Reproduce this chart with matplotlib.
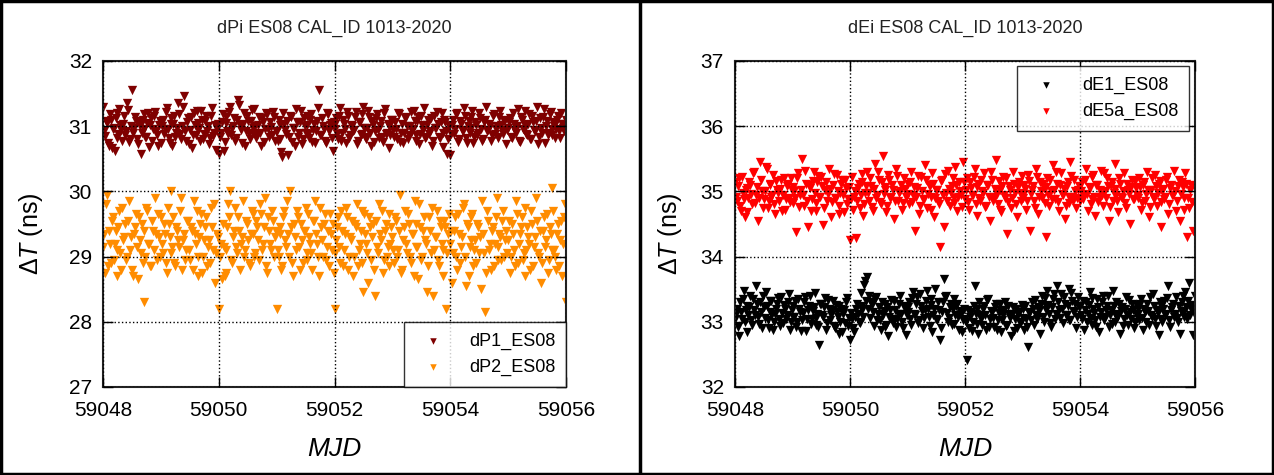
import numpy as np
import matplotlib
matplotlib.use("Agg")
import matplotlib.pyplot as plt
from matplotlib.patches import Rectangle

plt.rcParams["font.family"] = ["Liberation Sans", "DejaVu Sans"]
plt.rcParams["mathtext.fontset"] = "custom"
plt.rcParams["mathtext.rm"] = "Liberation Sans"
plt.rcParams["mathtext.it"] = "Liberation Sans:italic"

# epochs: MJD 59048 .. 59056, one sample every 1/30 day, plus the samples half a step later
mjd_start = 59048
mjd_step = 1.0 / 30

dP1 = [
    31.30, 30.85, 31.05, 30.70, 31.10, 30.95, 30.62, 31.20, 30.88, 31.02,
    30.78, 31.15, 30.92, 31.25, 30.80, 31.55, 30.98, 31.08, 30.72, 31.00,
    30.90, 31.18, 30.84, 31.05, 30.68, 31.12, 30.95, 31.22, 30.86, 31.02,
    30.75, 31.10, 30.96, 31.28, 30.82, 31.04, 30.70, 31.15, 30.90, 31.35,
    30.88, 31.00, 31.46, 30.78, 31.12, 30.94, 30.66, 31.20, 30.86, 31.05,
    30.98, 31.24, 30.80, 31.08, 30.92, 30.72, 31.16, 30.85, 31.02, 30.95,
    30.58, 30.90, 31.18, 30.76, 31.05, 30.88, 31.30, 30.97, 31.12, 30.82,
    31.40, 31.02, 30.74, 31.20, 30.93, 31.08, 30.80, 31.25, 30.90, 31.00,
    30.86, 31.14, 30.70, 31.06, 30.95, 31.18, 30.84, 30.99, 31.22, 30.78,
    30.92, 31.10, 30.80, 30.52, 31.04, 30.88, 30.56, 31.15, 30.76, 30.98,
    31.26, 30.84, 31.06, 30.72, 31.12, 30.90, 31.02, 30.82, 31.18, 30.94,
    30.74, 31.08, 31.55, 30.86, 31.00, 30.78, 31.20, 30.92, 31.05, 30.62,
    30.96, 31.12, 30.80, 31.28, 30.90, 31.04, 30.74, 31.16, 30.86, 31.00,
    30.94, 31.22, 30.78, 31.06, 30.88, 31.30, 30.84, 30.98, 31.14, 30.70,
    31.02, 30.92, 31.18, 30.82, 31.08, 30.76, 31.26, 30.90, 31.00, 30.86,
    31.10, 30.84, 30.96, 31.20, 30.76, 31.04, 30.90, 31.14, 30.80, 31.00,
    30.92, 31.24, 30.86, 31.08, 30.72, 31.16, 30.94, 30.82, 31.02, 30.88,
    31.12, 30.78, 30.98, 31.22, 30.84, 31.06, 30.68, 31.10, 30.92, 30.80,
    30.56, 31.02, 30.88, 31.18, 30.76, 31.08, 30.94, 31.28, 30.82, 31.00,
    30.90, 31.14, 30.74, 31.06, 30.86, 31.20, 30.96, 30.80, 31.10, 30.92,
    31.04, 30.78, 31.16, 30.88, 31.00, 30.84, 31.24, 30.94, 31.08, 30.72,
    30.98, 31.12, 30.82, 31.04, 30.90, 31.26, 30.76, 31.10, 30.94, 31.02,
    30.86, 31.18, 30.80, 31.06, 30.92, 31.30, 30.84, 30.98, 31.14, 30.74,
    31.08, 30.90, 31.22, 30.86, 31.00, 30.96, 31.16, 30.82, 31.04, 30.92,
    31.10,
]
dP1_mid = [
    30.92, 31.08, 30.74, 31.18, 30.66, 30.98, 31.12, 30.82, 31.26, 30.94,
    31.04, 30.86, 31.35, 30.76, 31.00, 30.90, 31.14, 30.80, 31.06, 30.58,
    31.10, 30.96, 30.84, 31.20, 31.02, 30.78, 31.16, 30.92, 30.70, 31.08,
    31.00, 30.88, 31.22, 30.96, 30.74, 31.12, 31.04, 30.84, 30.98, 31.18,
    30.80, 31.30, 30.92, 31.06, 30.72, 31.14, 30.86, 31.02, 31.24, 30.94,
    30.78, 31.10, 30.88, 31.16, 31.00, 30.82, 31.28, 30.90, 30.64, 31.04,
    30.84, 31.06, 30.62, 31.14, 30.92, 31.22, 30.86, 31.00, 30.78, 31.10,
    31.32, 30.94, 31.04, 30.70, 31.16, 30.88, 31.08, 30.98, 31.26, 30.82,
    31.02, 30.90, 31.12, 30.76, 31.20, 30.96, 31.06, 30.86, 31.14, 30.92,
    30.78, 31.02, 30.60, 31.20, 30.94, 31.08, 30.84, 31.14, 30.98, 30.70,
    31.06, 30.90, 31.24, 30.80, 31.00, 31.16, 30.88, 31.10, 30.76, 31.04,
    30.92, 31.28, 30.86, 31.12, 30.96, 30.74, 31.18, 31.02, 30.82, 31.06,
    31.04, 30.88, 31.16, 30.78, 31.10, 30.96, 31.22, 30.82, 31.02, 30.92,
    31.14, 30.72, 31.06, 30.86, 31.18, 30.98, 30.80, 31.24, 30.90, 31.08,
    30.76, 31.12, 30.94, 31.00, 30.84, 31.20, 30.88, 31.04, 30.66, 31.10,
    30.94, 31.06, 30.80, 31.18, 30.90, 30.74, 31.12, 31.00, 30.86, 31.22,
    30.96, 31.08, 30.78, 31.14, 30.88, 31.02, 31.28, 30.84, 31.10, 30.92,
    30.70, 31.16, 30.98, 31.04, 30.82, 31.20, 30.90, 31.06, 30.58, 31.00,
    30.88, 31.10, 30.96, 31.20, 30.80, 31.04, 30.92, 31.16, 30.74, 31.08,
    30.98, 31.24, 30.84, 31.02, 30.90, 31.12, 30.78, 31.06, 31.30, 30.94,
    31.00, 30.86, 31.18, 30.96, 30.82, 31.14, 31.02, 30.88, 31.10, 30.94,
    31.06, 30.84, 31.20, 30.92, 31.00, 30.78, 31.14, 30.96, 31.24, 30.88,
    31.04, 30.80, 31.16, 30.94, 31.08, 30.72, 31.12, 30.90, 31.26, 31.00,
    30.86, 31.18, 30.96, 31.06, 30.82, 31.10, 30.92, 31.20, 30.98, 31.04,
]

dP2 = [
    29.15, 28.75, 29.95, 29.40, 28.90, 29.60, 29.20, 28.70, 29.45, 29.05,
    29.75, 29.30, 28.95, 29.55, 29.10, 28.80, 29.35, 29.65, 28.65, 29.25,
    29.50, 28.30, 29.00, 29.70, 29.20, 28.85, 29.40, 29.90, 28.95, 29.30,
    29.60, 29.05, 29.35, 28.75, 29.50, 30.00, 29.15, 28.90, 29.45, 29.25,
    29.70, 28.80, 29.35, 29.10, 29.55, 28.95, 29.40, 29.85, 29.20, 28.70,
    29.30, 29.65, 29.00, 29.45, 28.85, 29.25, 29.75, 29.10, 28.60, 29.35,
    28.20, 29.20, 29.50, 28.70, 29.10, 29.80, 30.00, 28.90, 29.40, 29.15,
    29.60, 28.80, 29.30, 29.00, 29.55, 29.25, 28.85, 29.70, 29.35, 29.05,
    29.45, 28.95, 29.65, 29.20, 29.90, 28.75, 29.40, 29.10, 29.55, 29.30,
    28.20, 29.00, 29.45, 28.85, 29.70, 29.15, 29.35, 30.00, 28.90, 29.50,
    29.10, 29.60, 28.80, 29.25, 29.40, 29.75, 28.95, 29.30, 29.05, 29.55,
    29.85, 29.20, 28.70, 29.45, 29.00, 29.65, 29.15, 28.85, 29.35, 29.50,
    28.20, 29.25, 29.60, 28.90, 29.40, 29.10, 29.75, 28.80, 29.30, 29.55,
    29.00, 29.45, 28.85, 29.20, 29.70, 28.45, 29.35, 29.05, 29.60, 28.95,
    29.50, 28.40, 29.15, 29.80, 29.25, 28.75, 29.40, 29.00, 29.65, 29.20,
    29.30, 28.90, 29.55, 29.10, 29.95, 28.80, 29.45, 29.20, 29.65, 29.00,
    29.35, 28.70, 29.50, 29.15, 29.80, 28.95, 29.40, 29.25, 28.45, 29.60,
    29.05, 28.40, 29.30, 29.70, 28.85, 29.45, 29.10, 29.55, 28.20, 29.35,
    29.20, 28.60, 29.40, 29.00, 29.65, 28.90, 29.30, 29.80, 28.55, 29.45,
    29.15, 29.60, 28.85, 29.25, 29.50, 29.05, 28.50, 29.35, 28.15, 29.70,
    29.10, 28.80, 29.45, 29.20, 29.90, 28.95, 29.30, 29.55, 29.00, 29.40,
    29.25, 28.75, 29.50, 29.10, 29.85, 28.90, 29.35, 29.60, 29.05, 28.70,
    29.45, 29.20, 29.70, 28.85, 29.30, 29.55, 29.00, 28.60, 29.40, 29.15,
    29.65, 28.95, 29.35, 30.05, 29.10, 28.80, 29.50, 29.25, 28.70, 29.60,
    28.30,
]
dP2_mid = [
    29.35, 29.80, 28.85, 29.20, 29.55, 28.95, 29.40, 29.10, 29.70, 28.80,
    29.25, 29.50, 29.00, 29.85, 29.30, 28.70, 29.45, 29.15, 29.60, 29.05,
    28.90, 29.40, 29.75, 29.20, 28.85, 29.55, 29.10, 29.35, 29.65, 29.00,
    29.20, 29.50, 28.90, 29.75, 29.30, 29.05, 29.60, 28.85, 29.40, 29.15,
    29.90, 29.25, 28.95, 29.55, 29.10, 29.45, 28.80, 29.35, 29.70, 29.00,
    29.50, 28.75, 29.25, 29.60, 29.15, 28.90, 29.45, 29.80, 29.05, 29.30,
    29.00, 28.65, 29.15, 28.75, 29.45, 29.60, 28.95, 29.30, 29.75, 29.05,
    29.40, 29.20, 29.85, 29.10, 29.50, 28.90, 29.35, 29.65, 29.00, 29.55,
    29.25, 29.80, 29.10, 29.45, 28.85, 29.60, 29.20, 29.70, 29.00, 29.40,
    29.10, 29.35, 28.80, 29.60, 29.25, 29.85, 29.00, 29.45, 28.70, 29.30,
    29.70, 29.15, 29.50, 28.90, 29.40, 29.05, 29.65, 29.20, 28.80, 29.55,
    29.35, 29.00, 29.75, 29.25, 29.50, 28.95, 29.40, 29.65, 29.10, 28.75,
    29.05, 29.45, 29.15, 29.70, 28.85, 29.35, 29.60, 29.00, 29.25, 28.70,
    29.50, 29.80, 29.10, 29.40, 28.90, 29.65, 29.20, 28.60, 29.45, 29.30,
    28.80, 29.55, 29.05, 29.35, 29.70, 28.95, 29.50, 29.15, 28.85, 29.45,
    29.10, 29.60, 29.00, 29.40, 28.75, 29.25, 29.70, 29.05, 29.50, 28.90,
    29.35, 29.85, 29.15, 28.65, 29.45, 29.00, 29.60, 29.20, 28.85, 29.40,
    29.75, 29.10, 29.30, 28.95, 29.55, 29.20, 28.70, 29.45, 29.05, 29.65,
    29.40, 29.05, 29.60, 28.80, 29.35, 29.15, 29.75, 29.00, 29.50, 28.70,
    29.25, 29.65, 29.10, 28.90, 29.45, 29.30, 29.85, 29.05, 28.75, 29.55,
    29.20, 29.40, 28.85, 29.60, 29.15, 29.35, 28.95, 29.70, 29.25, 29.05,
    29.55, 29.00, 29.35, 28.85, 29.65, 29.20, 29.45, 28.95, 29.75, 29.10,
    29.30, 28.80, 29.50, 29.15, 29.90, 29.05, 29.40, 28.90, 29.60, 29.25,
    28.75, 29.45, 29.10, 29.70, 29.00, 29.35, 28.85, 29.55, 29.20, 29.80,
]

dE1 = [
    33.05, 33.20, 32.78, 33.15, 33.35, 33.00, 33.25, 33.10, 33.40, 32.95,
    33.18, 33.55, 33.08, 33.30, 32.90, 33.22, 33.45, 33.02, 33.15, 33.32,
    32.88, 33.12, 33.28, 33.05, 33.38, 32.98, 33.20, 33.10, 33.42, 33.00,
    33.25, 33.08, 32.92, 33.35, 33.15, 33.02, 33.30, 32.86, 33.18, 33.40,
    33.05, 33.22, 32.95, 33.12, 32.65, 33.28, 33.08, 33.36, 32.98, 33.20,
    33.10, 33.32, 32.90, 33.15, 33.25, 33.00, 32.84, 33.18, 33.30, 32.94,
    32.72, 33.05, 32.85, 33.20, 33.12, 32.98, 33.25, 33.08, 33.62, 33.68,
    33.40, 33.30, 33.15, 33.35, 33.02, 33.22, 32.88, 33.10, 33.28, 32.95,
    32.78, 33.18, 33.05, 33.32, 32.92, 33.12, 33.40, 33.00, 33.22, 32.80,
    33.15, 33.30, 32.95, 33.45, 33.10, 33.38, 33.02, 33.25, 32.90, 33.18,
    33.48, 33.08, 33.35, 32.85, 33.20, 33.05, 33.30, 32.72, 33.15, 33.65,
    33.40, 33.00, 33.22, 32.95, 33.35, 33.10, 33.28, 32.88, 33.12, 33.02,
    33.05, 32.42, 32.90, 33.15, 33.00, 33.55, 33.20, 32.82, 33.10, 32.95,
    33.25, 32.88, 33.35, 33.05, 33.15, 32.92, 33.28, 33.02, 33.18, 32.85,
    33.10, 33.30, 32.95, 33.12, 32.78, 33.22, 33.05, 32.90, 33.15, 33.00,
    33.20, 32.88, 33.05, 32.62, 33.15, 33.30, 32.95, 33.10, 33.22, 32.82,
    33.40, 33.00, 33.25, 33.48, 33.12, 32.92, 33.35, 33.05, 33.55, 33.18,
    33.42, 32.98, 33.28, 33.10, 33.50, 33.02, 33.32, 33.15, 32.90, 33.38,
    33.25, 33.05, 32.88, 33.30, 33.12, 33.45, 32.95, 33.20, 33.02, 33.35,
    32.85, 33.15, 33.40, 33.08, 33.25, 32.92, 33.18, 33.48, 33.00, 33.30,
    33.10, 32.82, 33.22, 33.05, 33.38, 32.95, 33.15, 33.28, 32.90, 33.12,
    33.20, 33.02, 33.35, 32.88, 33.15, 33.28, 32.95, 33.10, 33.42, 33.05,
    33.18, 32.80, 33.25, 33.00, 33.32, 33.12, 33.55, 32.92, 33.22, 33.08,
    33.38, 33.00, 32.82, 33.30, 33.15, 33.45, 33.05, 33.60, 33.20, 32.80,
    33.40,
]
dE1_mid = [
    33.12, 32.92, 33.30, 33.05, 33.48, 33.18, 32.85, 33.22, 33.02, 33.35,
    33.10, 33.28, 32.96, 33.15, 33.40, 33.06, 33.24, 32.90, 33.32, 33.12,
    33.00, 33.20, 33.36, 32.94, 33.14, 33.26, 33.04, 33.30, 32.88, 33.18,
    33.08, 33.32, 33.00, 33.20, 32.86, 33.14, 33.38, 33.04, 33.24, 32.96,
    33.16, 33.44, 33.06, 32.92, 33.28, 33.10, 33.22, 32.88, 33.34, 33.02,
    33.18, 32.94, 33.26, 33.08, 32.82, 33.20, 33.12, 32.98, 33.36, 33.06,
    33.14, 32.90, 33.08, 33.28, 33.00, 33.44, 33.18, 33.56, 33.32, 33.20,
    33.06, 33.26, 32.94, 33.38, 33.12, 33.02, 33.30, 33.16, 32.92, 33.22,
    33.08, 33.34, 32.98, 33.18, 33.04, 33.28, 33.12, 32.90, 33.24, 33.10,
    33.22, 33.04, 33.36, 33.12, 33.28, 32.98, 33.42, 33.16, 33.06, 33.32,
    33.20, 32.94, 33.26, 33.10, 33.50, 33.02, 33.18, 32.90, 33.30, 33.38,
    33.14, 33.06, 33.28, 33.20, 32.96, 33.24, 33.08, 33.16, 32.84, 33.20,
    33.00, 33.18, 33.08, 32.86, 33.24, 33.12, 32.96, 33.30, 33.04, 33.20,
    33.10, 33.34, 32.92, 33.16, 33.06, 33.22, 32.88, 33.14, 33.28, 33.02,
    33.18, 32.94, 33.24, 33.06, 33.12, 32.86, 33.20, 33.10, 32.98, 33.26,
    33.06, 33.24, 32.92, 33.14, 33.02, 33.20, 33.34, 33.04, 33.16, 33.28,
    33.08, 33.36, 33.18, 33.26, 32.98, 33.22, 33.42, 33.12, 33.30, 33.06,
    33.20, 33.38, 33.10, 33.24, 33.02, 33.44, 33.16, 33.28, 33.08, 33.22,
    33.10, 33.32, 33.18, 33.00, 33.26, 33.06, 33.36, 33.14, 32.92, 33.22,
    33.08, 33.30, 33.02, 33.18, 33.40, 33.10, 32.96, 33.24, 33.12, 33.06,
    33.28, 33.16, 32.94, 33.20, 33.10, 33.34, 33.04, 33.18, 33.00, 33.26,
    33.12, 33.28, 33.06, 33.20, 33.00, 33.16, 33.38, 33.08, 33.24, 32.94,
    33.14, 33.30, 33.04, 33.20, 33.10, 33.36, 33.02, 33.18, 33.28, 33.12,
    33.06, 33.24, 33.16, 33.40, 33.08, 33.22, 33.32, 33.10, 33.26, 33.14,
]

dE5a = [
    35.15, 34.85, 35.20, 34.70, 34.98, 34.60, 35.05, 34.90, 35.10, 34.80,
    35.30, 34.95, 34.55, 35.45, 35.00, 34.88, 35.38, 34.75, 35.12, 34.92,
    35.25, 34.65, 35.02, 34.85, 35.18, 34.95, 34.72, 35.08, 34.90, 35.20,
    34.82, 35.00, 34.38, 35.28, 34.95, 35.50, 34.78, 35.12, 34.45, 35.05,
    34.88, 35.30, 34.70, 35.15, 34.92, 35.22, 34.48, 35.02, 34.85, 35.35,
    34.60, 35.10, 34.90, 35.25, 34.78, 34.98, 35.18, 34.68, 35.05, 34.88,
    34.25, 35.22, 34.92, 34.28, 35.05, 34.75, 35.15, 34.62, 34.98, 35.30,
    34.85, 35.08, 34.70, 35.42, 34.95, 35.18, 34.80, 35.55, 35.02, 34.68,
    35.25, 34.90, 35.10, 34.58, 35.35, 34.85, 35.00, 34.72, 35.20, 34.92,
    35.12, 34.80, 35.30, 34.95, 34.40, 35.05, 34.65, 35.22, 34.88, 35.40,
    34.75, 35.10, 34.92, 35.28, 34.60, 35.02, 34.85, 34.15, 35.18, 34.45,
    34.98, 35.32, 34.78, 35.08, 34.90, 35.38, 34.70, 35.15, 34.95, 35.45,
    34.88, 35.20, 34.72, 35.05, 34.95, 35.35, 34.62, 35.12, 34.85, 35.00,
    35.28, 34.78, 35.10, 34.55, 35.18, 34.92, 35.48, 34.80, 35.02, 34.68,
    35.22, 34.90, 34.35, 35.08, 34.75, 35.30, 34.98, 34.60, 35.15, 34.85,
    34.95, 35.10, 34.72, 35.25, 34.40, 35.02, 34.85, 35.35, 34.65, 35.15,
    34.90, 35.05, 34.30, 35.20, 34.78, 35.00, 35.40, 34.88, 35.12, 34.70,
    35.28, 34.95, 34.58, 35.08, 34.82, 35.45, 34.92, 35.18, 34.75, 35.02,
    34.85, 35.15, 34.95, 35.35, 34.70, 35.05, 34.88, 35.25, 34.62, 35.10,
    34.92, 35.32, 34.78, 35.00, 35.20, 34.55, 35.08, 34.85, 35.42, 34.95,
    34.68, 35.12, 34.90, 35.28, 34.75, 35.02, 34.50, 35.18, 34.88, 35.05,
    34.95, 35.20, 34.72, 35.10, 34.85, 35.30, 34.60, 35.02, 34.92, 35.25,
    34.78, 35.12, 34.45, 35.00, 34.88, 35.18, 34.65, 35.05, 34.95, 35.32,
    34.70, 35.08, 34.55, 35.15, 34.90, 35.28, 34.30, 34.75, 35.10, 34.40,
    34.80,
]
dE5a_mid = [
    34.92, 35.08, 34.78, 35.22, 34.88, 35.02, 34.68, 35.14, 34.96, 35.28,
    34.82, 35.06, 34.90, 35.18, 34.74, 35.00, 35.34, 34.86, 35.10, 34.94,
    34.80, 35.16, 34.98, 35.04, 34.70, 35.20, 34.88, 35.12, 34.84, 35.02,
    35.06, 34.90, 35.20, 34.76, 35.02, 34.94, 35.32, 34.86, 35.10, 34.70,
    35.16, 34.98, 34.82, 35.24, 34.92, 35.08, 34.74, 35.14, 34.96, 35.04,
    34.84, 35.26, 34.90, 35.00, 34.66, 35.12, 34.94, 35.18, 34.80, 35.06,
    34.88, 34.72, 35.00, 34.86, 35.12, 34.94, 35.26, 34.80, 35.08, 34.98,
    35.20, 34.76, 35.04, 34.90, 35.30, 34.84, 35.14, 34.96, 35.06, 34.78,
    35.18, 34.92, 35.02, 34.86, 35.24, 34.98, 35.10, 34.82, 35.04, 34.94,
    34.96, 35.14, 34.84, 35.06, 34.92, 35.24, 34.78, 35.00, 34.88, 35.18,
    34.96, 35.08, 34.72, 35.12, 34.90, 35.02, 34.80, 35.16, 34.94, 35.26,
    34.86, 35.04, 34.98, 35.20, 34.82, 35.10, 34.92, 35.00, 34.76, 35.14,
    35.02, 34.84, 35.14, 34.94, 35.22, 34.80, 35.06, 34.90, 35.18, 34.98,
    34.76, 35.10, 34.92, 35.30, 34.86, 35.04, 34.96, 35.16, 34.72, 35.08,
    34.94, 35.20, 34.84, 35.02, 34.90, 35.12, 34.80, 35.06, 34.98, 35.24,
    34.90, 35.04, 34.86, 35.16, 34.96, 35.08, 34.74, 35.22, 34.92, 35.00,
    35.12, 34.82, 35.06, 34.94, 35.18, 34.88, 35.02, 35.30, 34.84, 35.10,
    34.96, 35.04, 34.78, 35.14, 34.92, 35.24, 34.86, 35.00, 34.90, 35.08,
    35.00, 34.88, 35.18, 34.96, 35.06, 34.80, 35.22, 34.92, 35.10, 34.84,
    35.02, 34.94, 35.28, 34.90, 35.08, 34.76, 35.14, 34.98, 35.04, 34.86,
    35.20, 34.92, 35.00, 34.82, 35.12, 34.96, 35.06, 34.88, 35.16, 34.94,
    34.90, 35.06, 34.82, 35.14, 34.96, 35.02, 34.76, 35.20, 34.88, 35.08,
    34.98, 35.16, 34.84, 35.04, 34.92, 35.22, 34.80, 35.10, 34.94, 35.00,
    34.86, 35.18, 34.96, 35.06, 34.72, 35.12, 34.90, 35.02, 34.84, 35.08,
]

xticks = [59048, 59050, 59052, 59054, 59056]

mjd = mjd_start + mjd_step * np.arange(len(dP1))
mjd_mid = mjd_start + mjd_step * (np.arange(len(dP1_mid)) + 0.5)
x_all = np.concatenate([mjd, mjd_mid])

fig = plt.figure(figsize=(12.74, 4.75), dpi=100)

# table-like frame around the two panels
fig.add_artist(Rectangle((0.001, 0.002), 0.998, 0.995, transform=fig.transFigure,
                         fill=False, edgecolor="black", linewidth=2.5))
fig.add_artist(plt.Line2D([640 / 1274, 640 / 1274], [0, 1], transform=fig.transFigure,
                          color="black", linewidth=2.5))

ax1 = fig.add_axes([103 / 1274, 88 / 475, 463 / 1274, 326 / 475])
ax2 = fig.add_axes([735 / 1274, 88 / 475, 460 / 1274, 326 / 475])


def style(ax, title, ylim, yticks, ylab_x):
    ax.set_xlim(59048, 59056)
    ax.set_ylim(*ylim)
    ax.set_xticks(xticks)
    ax.set_xticklabels([str(t) for t in xticks])
    ax.set_yticks(yticks)
    ax.grid(True, color="black", linestyle=":", linewidth=1.0)
    ax.set_axisbelow(False)
    ax.tick_params(direction="in", top=True, right=True, length=7, width=1,
                   labelsize=15)
    ax.tick_params(axis="x", pad=10)
    ax.tick_params(axis="y", pad=8)
    for sp in ax.spines.values():
        sp.set_linewidth(1.5)
        sp.set_color("#222222")
    ax.set_title(title, fontsize=13, pad=20, color="#222222")
    ax.set_xlabel("MJD", fontsize=19, style="italic", labelpad=12)
    ax.set_ylabel(r"$\Delta T$ (ns)", fontsize=18)
    ax.yaxis.set_label_coords(ylab_x, 0.47)


ax1.scatter(x_all, dP1 + dP1_mid, marker="v", s=45, color="#7f0000", linewidths=0,
            label="dP1_ES08")
ax1.scatter(x_all, dP2 + dP2_mid, marker="v", s=45, color="#ff8c00", linewidths=0,
            label="dP2_ES08")
style(ax1, "dPi ES08 CAL_ID 1013-2020", (27, 32), [27, 28, 29, 30, 31, 32], -0.125)
leg1 = ax1.legend(loc="lower right", borderaxespad=0, fontsize=13, frameon=True,
                  fancybox=False, edgecolor="black", markerscale=0.7,
                  handletextpad=1.0, borderpad=0.6)
leg1.get_frame().set_linewidth(1.0)

ax2.scatter(x_all, dE1 + dE1_mid, marker="v", s=45, color="black", linewidths=0,
            label="dE1_ES08")
ax2.scatter(x_all, dE5a + dE5a_mid, marker="v", s=45, color="#ff0000", linewidths=0,
            label="dE5a_ES08")
style(ax2, "dEi ES08 CAL_ID 1013-2020", (32, 37), [32, 33, 34, 35, 36, 37], -0.11)
leg2 = ax2.legend(loc="upper right", bbox_to_anchor=(0.987, 0.985), borderaxespad=0,
                  fontsize=13, frameon=True, fancybox=False, edgecolor="black",
                  markerscale=0.7, handletextpad=1.0, borderpad=0.6)
leg2.get_frame().set_linewidth(1.0)

fig.savefig("out.png", dpi=100)
